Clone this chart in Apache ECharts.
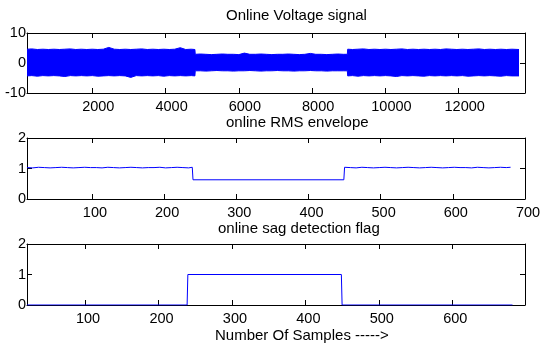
<!DOCTYPE html>
<html>
<head>
<meta charset="utf-8">
<script src="https://cdn.jsdelivr.net/npm/echarts@6/dist/echarts.min.js"></script>
<style>html,body{margin:0;padding:0;background:#fff}#c{width:540px;height:346px}</style>
</head>
<body>
<div id="c"></div>
<script>
// ---- Data ----
// Voltage signal: upper / lower envelope of the dense waveform at sample positions
const signalX = [218,350,500,650,800,950,1100,1250,1400,1550,1700,1850,2000,2150,2300,2450,2600,2750,2900,3050,3200,3350,3500,3650,3800,3950,4100,4250,4400,4550,4700,4800,
  4810,4950,5100,5250,5400,5550,5700,5850,6000,6150,6300,6450,6600,6750,6900,7050,7200,7350,7500,7650,7800,7950,8100,8250,8400,8550,8700,8850,8960,
  8970,9100,9250,9400,9550,9700,9850,10000,10150,10300,10450,10600,10750,10900,11050,11200,11350,11500,11650,11800,11950,12100,12250,12400,12550,12700,12850,13000,13150,13300,13450,13646];
const signalHi = [4.6,4.7,4.5,4.6,4.5,4.6,4.5,4.6,4.7,4.5,4.6,4.5,4.6,4.5,4.6,5.2,4.6,4.5,4.6,4.5,4.6,4.7,4.5,4.6,4.5,4.6,4.5,4.6,5.1,4.5,4.6,4.5,
  2.9,3.0,2.9,2.8,2.9,3.0,2.9,2.9,2.8,3.3,2.9,2.9,3.0,2.9,2.8,2.9,2.9,3.0,2.9,2.8,2.9,3.2,2.9,2.9,2.8,2.9,3.0,2.9,2.9,
  4.6,4.5,4.6,4.7,4.5,4.6,4.5,4.6,4.5,4.6,4.7,4.5,4.6,4.5,4.6,4.5,4.6,4.5,4.7,4.6,4.5,4.6,4.5,4.6,4.7,4.5,4.6,4.5,4.6,4.5,4.6,4.5];
const signalLo = [-4.3,-4.2,-4.4,-4.2,-4.3,-4.2,-4.3,-4.5,-4.2,-4.3,-4.2,-4.3,-4.2,-4.4,-4.3,-4.2,-4.3,-4.2,-4.3,-4.8,-4.2,-4.3,-4.2,-4.3,-4.2,-4.4,-4.2,-4.3,-4.2,-4.3,-4.2,-4.3,
  -2.6,-2.6,-2.7,-2.6,-2.5,-2.6,-2.6,-2.7,-2.6,-2.6,-2.5,-2.6,-2.7,-2.6,-2.6,-2.5,-2.6,-2.6,-2.7,-2.6,-2.6,-2.5,-2.6,-2.6,-2.7,-2.6,-2.6,-2.6,-2.6,
  -4.3,-4.2,-4.4,-4.2,-4.3,-4.2,-4.3,-4.2,-4.3,-4.5,-4.2,-4.3,-4.2,-4.3,-4.4,-4.2,-4.3,-4.2,-4.3,-4.2,-4.3,-4.2,-4.4,-4.3,-4.2,-4.3,-4.2,-4.3,-4.4,-4.2,-4.3,-4.3];

// Online RMS envelope
const rmsX = [10,18,26,34,42,50,58,66,74,82,90,98,106,114,122,130,138,146,154,162,170,178,186,194,202,210,218,226,234,239,
  240,449,
  450,458,466,474,482,490,498,506,514,522,530,538,546,554,562,570,578,586,594,602,610,618,626,634,642,650,658,666,674,680];
const rmsY = [1.03,1.02,1.04,1.03,1.02,1.03,1.04,1.03,1.02,1.03,1.04,1.03,1.03,1.02,1.04,1.03,1.02,1.03,1.04,1.03,1.02,1.03,1.03,1.04,1.02,1.03,1.04,1.03,1.02,1.04,
  0.63,0.63,
  1.04,1.03,1.02,1.04,1.03,1.02,1.03,1.04,1.03,1.02,1.03,1.04,1.03,1.02,1.03,1.04,1.03,1.02,1.03,1.04,1.03,1.03,1.02,1.04,1.03,1.02,1.03,1.04,1.03,1.04];

// Online sag detection flag
const flagX = [21,239,240,449,450,682];
const flagY = [0,0,1,1,0,0];

// Titles
const titles = ['Online Voltage signal','online RMS envelope','online sag detection flag'];
const xLabelText = 'Number Of Samples ----->';

// ---- Chart ----
const FONT = '"Liberation Sans", Arial, Helvetica, sans-serif';
const zip = (xs, ys) => xs.map((x, i) => [x, ys[i]]);

const grids = [
  {left: 27, right: 15, top: 33, height: 60, containLabel: false, outerBoundsMode: 'none'},
  {left: 27, right: 15, top: 138, height: 61, containLabel: false, outerBoundsMode: 'none'},
  {left: 27, right: 15, top: 244, height: 61, containLabel: false, outerBoundsMode: 'none'}
];
const xr = [[218, 13809], [10, 700], [21, 699]];
const yr = [[-10, 10, 10], [0, 2, 1], [0, 2, 1]];
const showMax = [false, true, false];
const labelShift = [12, 6, 6];

const xAxes = [], yAxes = [];
grids.forEach((g, i) => {
  const common = {
    type: 'value', gridIndex: i, min: xr[i][0], max: xr[i][1], splitNumber: 7,
    axisLine: {show: true, onZero: false, lineStyle: {color: '#000', width: 1}},
    axisTick: {show: true, inside: true, length: 5, lineStyle: {color: '#000', width: 1}},
    splitLine: {show: false}
  };
  xAxes.push(Object.assign({}, common, {
    position: 'bottom',
    axisLabel: {color: '#000', fontSize: 14.5, fontFamily: FONT, margin: 6, padding: [0, 0, 0, labelShift[i]],
      showMinLabel: false, showMaxLabel: showMax[i], hideOverlap: false, formatter: v => String(v)}
  }));
  xAxes.push(Object.assign({}, common, {position: 'top', axisLabel: {show: false}}));
  const yc = {
    type: 'value', gridIndex: i, min: yr[i][0], max: yr[i][1], interval: yr[i][2],
    axisLine: {show: true, onZero: false, lineStyle: {color: '#000', width: 1}},
    axisTick: {show: true, inside: true, length: 5, lineStyle: {color: '#000', width: 1}},
    splitLine: {show: false}
  };
  yAxes.push(Object.assign({}, yc, {position: 'left', axisLabel: {color: '#000', fontSize: 14.5, fontFamily: FONT, margin: 1, formatter: v => String(v)}}));
  yAxes.push(Object.assign({}, yc, {position: 'right', axisLabel: {show: false}}));
});

const blue = '#0000ff';
const lineBase = {type: 'line', symbol: 'none', animation: false, silent: true, lineStyle: {color: blue, width: 1}, itemStyle: {color: blue}, z: 3};

const option = {
  animation: false,
  grid: grids,
  xAxis: xAxes,
  yAxis: yAxes,
  series: [
    Object.assign({}, lineBase, {xAxisIndex: 0, yAxisIndex: 0, data: zip(signalX, signalHi), areaStyle: {color: blue, opacity: 1}}),
    Object.assign({}, lineBase, {xAxisIndex: 0, yAxisIndex: 0, data: zip(signalX, signalLo), areaStyle: {color: blue, opacity: 1}}),
    Object.assign({}, lineBase, {xAxisIndex: 2, yAxisIndex: 2, data: zip(rmsX, rmsY)}),
    Object.assign({}, lineBase, {xAxisIndex: 4, yAxisIndex: 4, data: zip(flagX, flagY), z: 5})
  ],
  graphic: [
    {type: 'text', left: 226, top: 8, style: {text: titles[0], font: '15px ' + FONT, fill: '#000'}},
    {type: 'text', left: 226, top: 115, style: {text: titles[1], font: '15px ' + FONT, fill: '#000'}},
    {type: 'text', left: 218, top: 221, style: {text: titles[2], font: '15px ' + FONT, fill: '#000'}},
    {type: 'text', left: 215, top: 328, style: {text: xLabelText, font: '15px ' + FONT, fill: '#000'}}
  ]
};
const chart = echarts.init(document.getElementById('c'), null, {renderer: 'canvas'});
chart.setOption(option);
</script>
</body>
</html>
